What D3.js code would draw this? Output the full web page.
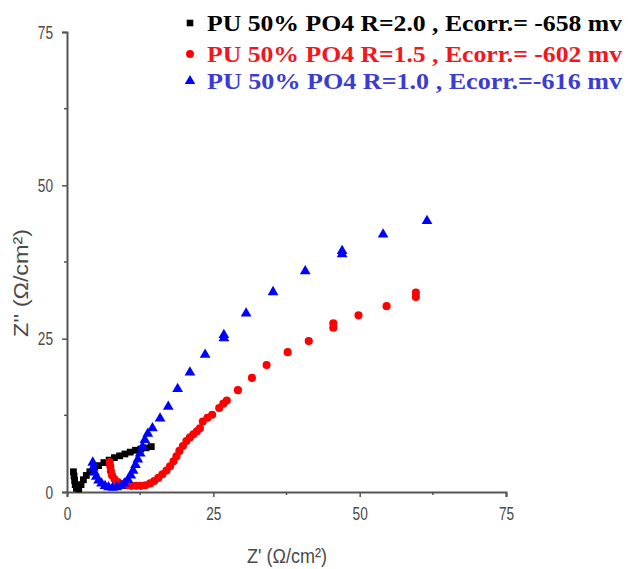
<!DOCTYPE html>
<html>
<head>
<meta charset="utf-8">
<script src="https://cdn.jsdelivr.net/npm/d3@7/dist/d3.min.js"></script>
<style>
  html, body { margin: 0; padding: 0; background: #fff; }
  svg { display: block; }
</style>
</head>
<body>
<svg id="chart" width="628" height="569"></svg>
<script>
// Nyquist data, Z' (real) vs Z'' (imaginary) in Ω/cm²
const pointsR20 = [
  [1.1, 3.3], [1.2, 2.6], [1.3, 1.9], [1.4, 1.2], [1.6, 0.6], [2.0, 0.5],
  [2.4, 1.2], [2.8, 2.0], [3.3, 2.7], [3.9, 3.3], [4.6, 3.8], [5.4, 4.3],
  [6.3, 4.8], [7.2, 5.2], [8.1, 5.6], [9.0, 5.9], [9.9, 6.2], [10.8, 6.5],
  [11.7, 6.8], [12.6, 7.0], [13.5, 7.2], [14.4, 7.4]
];
const pointsR15 = [
  [7.3, 4.9], [7.4, 4.2], [7.5, 3.4], [7.7, 2.7], [8.1, 2.1], [8.7, 1.6],
  [9.4, 1.3], [10.2, 1.1], [11.0, 1.0], [11.8, 1.0], [12.6, 1.0], [13.4, 1.1],
  [14.2, 1.4], [14.9, 1.8], [15.6, 2.3], [16.3, 2.9], [17.0, 3.5], [17.6, 4.2],
  [18.2, 5.0], [18.7, 5.8], [19.2, 6.7], [19.8, 7.5], [20.4, 8.3], [21.0, 8.9],
  [21.6, 9.4], [22.2, 9.9], [22.7, 10.4], [23.2, 11.5], [24.0, 12.1], [24.8, 12.6],
  [26.0, 13.7], [26.7, 14.4], [27.3, 14.9], [29.2, 16.6], [31.6, 18.6], [34.1, 20.7],
  [37.7, 22.8], [41.3, 24.6], [45.5, 26.8], [45.5, 27.5], [49.8, 28.8], [54.6, 30.3],
  [59.6, 31.8], [59.6, 32.5]
];
const pointsR10 = [
  [4.4, 4.8], [4.5, 4.0], [4.7, 3.2], [5.0, 2.5], [5.4, 1.9], [5.9, 1.4],
  [6.5, 1.0], [7.1, 0.8], [7.8, 0.7], [8.5, 0.8], [9.2, 1.0], [9.8, 1.4],
  [10.4, 2.0], [10.9, 2.7], [11.3, 3.5], [11.7, 4.4], [12.1, 5.3], [12.5, 6.3],
  [12.9, 7.4], [13.3, 8.5], [13.8, 9.5], [14.6, 10.4], [15.9, 12.0], [17.3, 13.9],
  [18.9, 16.8], [21.0, 19.5], [23.6, 22.4], [26.8, 25.1], [26.8, 25.6], [30.6, 29.1],
  [35.2, 32.6], [40.7, 36.0], [47.0, 38.8], [47.0, 39.3], [54.0, 42.0], [61.5, 44.2]
];
const seriesLabels = [
  "PU 50% PO4 R=2.0 , Ecorr.=  -658 mv",
  "PU 50% PO4 R=1.5 , Ecorr.= -602 mv",
  "PU 50% PO4 R=1.0 , Ecorr.=-616 mv"
];
const axisTicks = [0, 25, 50, 75];
const minorTicks = [12.5, 37.5, 62.5];

const series = [
  { points: pointsR20, label: seriesLabels[0], symbol: d3.symbolSquare,   size: 46, color: "#000000", text: "#000000" },
  { points: pointsR15, label: seriesLabels[1], symbol: d3.symbolCircle,   size: 52, color: "#ff0000", text: "#f2161e" },
  { points: pointsR10, label: seriesLabels[2], symbol: d3.symbolTriangle, size: 50, color: "#0000ff", text: "#3c3cd0" }
];

const svg = d3.select("#chart");
const x = d3.scaleLinear().domain([0, 75]).range([67, 506]);
const y = d3.scaleLinear().domain([0, 75]).range([492, 32]);
const axisColor = "#555";
const labelColor = "#4a4a4a";

// axes
const xAxis = svg.append("g")
  .attr("transform", `translate(0,${y(0)})`)
  .call(d3.axisBottom(x).tickValues(axisTicks).tickSize(5).tickPadding(10).tickFormat(d3.format("d")));
const yAxis = svg.append("g")
  .attr("transform", `translate(${x(0)},0)`)
  .call(d3.axisLeft(y).tickValues(axisTicks).tickSize(5).tickPadding(9).tickFormat(d3.format("d")));

[xAxis, yAxis].forEach(g => {
  g.select(".domain").attr("stroke", axisColor).attr("stroke-width", 2);
  g.selectAll(".tick line").attr("stroke", axisColor).attr("stroke-width", 1.5);
  g.selectAll(".tick text")
    .attr("fill", labelColor)
    .style("font-family", "'Liberation Sans', Arial, sans-serif")
    .style("font-size", "19px")
    .attr("lengthAdjust", "spacingAndGlyphs")
    .attr("textLength", d => String(d).length * 7.6);
});

// minor ticks
svg.append("g").selectAll("line").data(minorTicks).join("line")
  .attr("x1", d => x(d)).attr("x2", d => x(d))
  .attr("y1", y(0)).attr("y2", y(0) + 3)
  .attr("stroke", axisColor).attr("stroke-width", 1.5);
svg.append("g").selectAll("line").data(minorTicks).join("line")
  .attr("x1", x(0)).attr("x2", x(0) - 3)
  .attr("y1", d => y(d)).attr("y2", d => y(d))
  .attr("stroke", axisColor).attr("stroke-width", 1.5);

// axis titles
svg.append("text")
  .attr("x", 287).attr("y", 563)
  .attr("text-anchor", "middle")
  .attr("fill", labelColor)
  .style("font-family", "'Liberation Sans', Arial, sans-serif")
  .style("font-size", "20px")
  .attr("lengthAdjust", "spacingAndGlyphs")
  .attr("textLength", 80)
  .text("Z' (Ω/cm²)");

svg.append("text")
  .attr("transform", "translate(28,283) rotate(-90)")
  .attr("text-anchor", "middle")
  .attr("fill", labelColor)
  .style("font-family", "'Liberation Sans', Arial, sans-serif")
  .style("font-size", "20px")
  .attr("lengthAdjust", "spacingAndGlyphs")
  .attr("textLength", 108)
  .text("Z'' (Ω/cm²)");

// data markers
series.forEach(s => {
  svg.append("g").selectAll("path").data(s.points).join("path")
    .attr("transform", d => `translate(${x(d[0])},${y(d[1])})`)
    .attr("d", d3.symbol().type(s.symbol).size(s.size))
    .attr("fill", s.color);
});

// legend
const legendRows = [23, 54, 81];
series.forEach((s, i) => {
  const g = svg.append("g").attr("transform", `translate(190,${legendRows[i]})`);
  g.append("path")
    .attr("d", d3.symbol().type(s.symbol).size(s.size * 0.95))
    .attr("fill", s.color);
  g.append("text")
    .attr("x", 17).attr("y", 8)
    .attr("fill", s.text)
    .style("font-family", "'Liberation Serif', 'Times New Roman', serif")
    .style("font-weight", "bold")
    .style("font-size", "23px")
    .attr("lengthAdjust", "spacingAndGlyphs")
    .attr("textLength", 415)
    .text(s.label);
});
</script>
</body>
</html>
